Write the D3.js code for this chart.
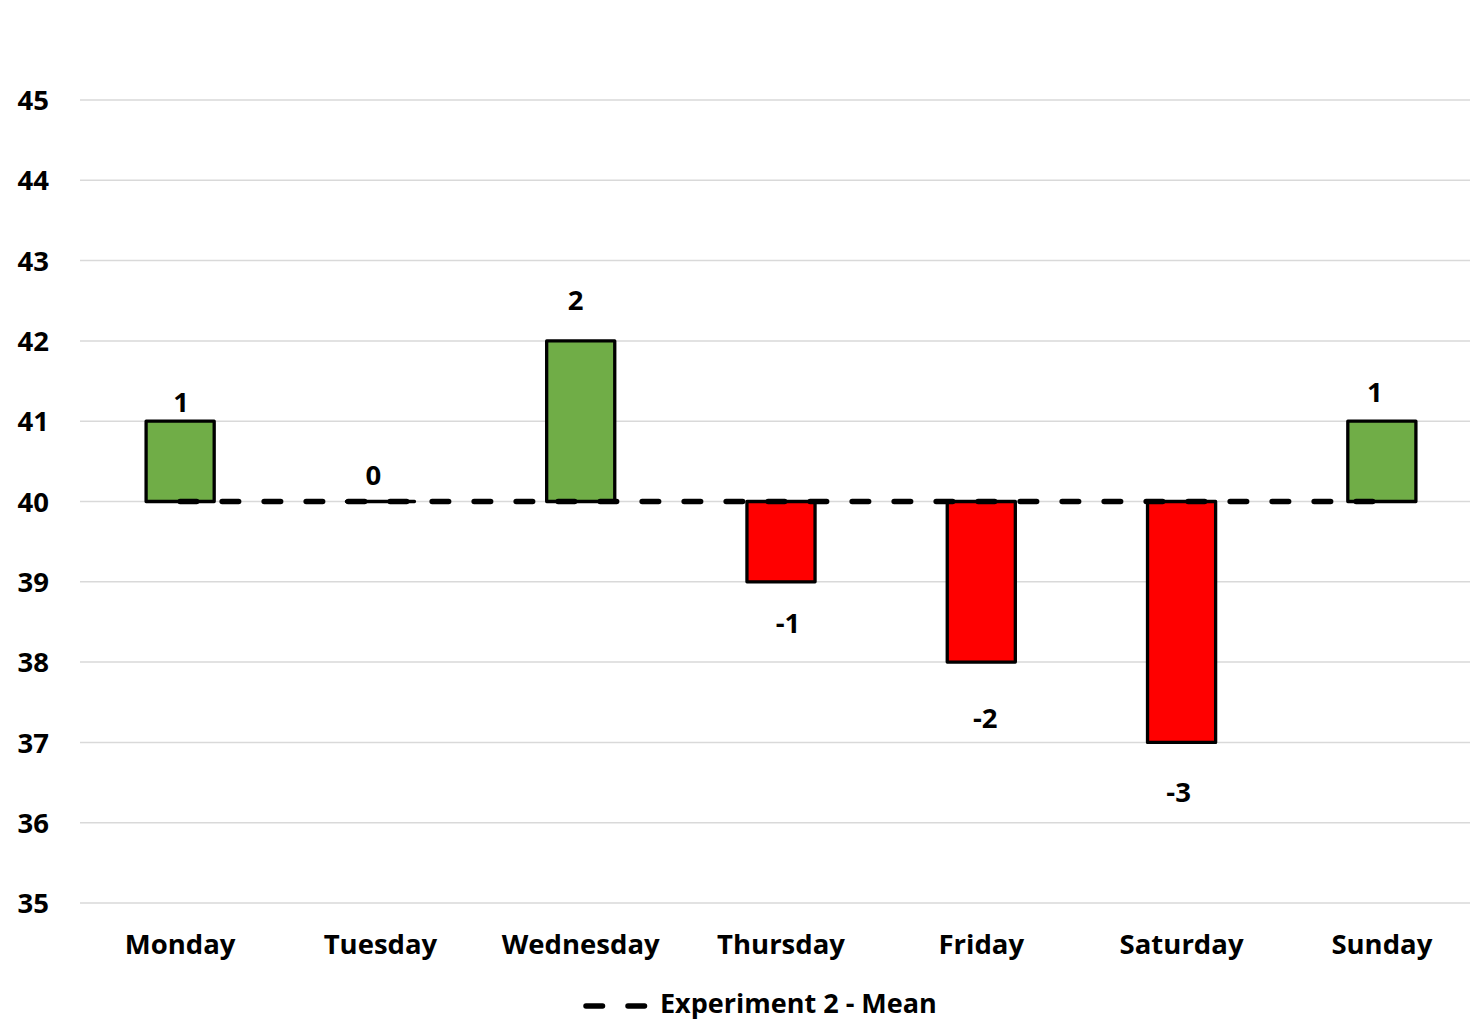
<!DOCTYPE html>
<html>
<head>
<meta charset="utf-8">
<script src="https://cdn.jsdelivr.net/npm/d3@7/dist/d3.min.js"></script>
<style>
  html, body { margin: 0; padding: 0; background: #fff; }
  svg { display: block; font-family: "Open Sans", "DejaVu Sans", sans-serif; font-weight: 700; }
</style>
</head>
<body>
<svg id="chart" width="1470" height="1022"></svg>
<script>
// Daily deviation from the experiment mean
const days = ["Monday", "Tuesday", "Wednesday", "Thursday", "Friday", "Saturday", "Sunday"];
const deviation = [1, 0, 2, -1, -2, -3, 1];
const meanValue = [40, 40, 40, 40, 40, 40, 40];
const yTicks = [35, 36, 37, 38, 39, 40, 41, 42, 43, 44, 45];
const seriesName = "Experiment 2 - Mean";

// hand-placed label nudges (px) relative to each bar end
const labelNudgeX = [1, -7, -5, 7, 4, -3, -7];
const labelNudgeY = [-19, -26, -41, 42, 56, 50, -29];

const FONT_SIZE = 27.5;

const svg = d3.select("#chart");
const plot = { left: 80, right: 1482, top: 100, bottom: 903 };

const x = d3.scaleBand()
  .domain(days)
  .range([plot.left, plot.right])
  .paddingInner(0.66)
  .paddingOuter(0.33);

const y = d3.scaleLinear()
  .domain([35, 45])
  .range([plot.bottom, plot.top]);

// gridlines
svg.append("g")
  .selectAll("line")
  .data(yTicks)
  .join("line")
  .attr("x1", plot.left)
  .attr("x2", 1470)
  .attr("y1", d => y(d))
  .attr("y2", d => y(d))
  .attr("stroke", "#d9d9d9")
  .attr("stroke-width", 1.5);

// y axis labels
const yAxis = d3.axisLeft(y).tickValues(yTicks).tickSize(0).tickPadding(0);
svg.append("g")
  .attr("transform", "translate(49,0)")
  .call(yAxis)
  .call(g => g.select(".domain").remove())
  .call(g => g.selectAll("text")
    .attr("font-size", FONT_SIZE)
    .attr("font-weight", 700)
    .attr("font-family", "'Open Sans', sans-serif")
    .attr("fill", "#000")
    .attr("dy", "0.35em"));

// x axis labels
const xAxis = d3.axisBottom(x).tickSize(0).tickPadding(0);
svg.append("g")
  .attr("transform", `translate(0,${plot.bottom + 41})`)
  .call(xAxis)
  .call(g => g.select(".domain").remove())
  .call(g => g.selectAll("text")
    .attr("font-size", FONT_SIZE)
    .attr("font-weight", 700)
    .attr("font-family", "'Open Sans', sans-serif")
    .attr("fill", "#000")
    .attr("dy", "0.35em"));

// deviation bars (drawn as paths so a zero-height bar still shows its outline)
const rows = days.map((d, i) => ({ day: d, dev: deviation[i], mean: meanValue[i], i }));

svg.append("g")
  .selectAll("path")
  .data(rows)
  .join("path")
  .attr("d", d => {
    const x0 = x(d.day), w = x.bandwidth();
    const y0 = Math.min(y(d.mean), y(d.mean + d.dev));
    const h = Math.abs(y(d.mean) - y(d.mean + d.dev));
    const p = d3.path();
    p.rect(x0, y0, w, h);
    return p.toString();
  })
  .attr("fill", d => d.dev >= 0 ? "#70ad47" : "#ff0000")
  .attr("stroke", "#000")
  .attr("stroke-width", 3.3)
  .attr("stroke-linejoin", "round");

// mean line
const line = d3.line()
  .x(d => x(d.day) + x.bandwidth() / 2)
  .y(d => y(d.mean));

svg.append("path")
  .datum(rows)
  .attr("d", line)
  .attr("fill", "none")
  .attr("stroke", "#000")
  .attr("stroke-width", 5.5)
  .attr("stroke-linecap", "round")
  .attr("stroke-dasharray", "16.5 25.5");

// value labels
svg.append("g")
  .selectAll("text")
  .data(rows)
  .join("text")
  .attr("x", d => x(d.day) + x.bandwidth() / 2 + labelNudgeX[d.i])
  .attr("y", d => y(d.mean + d.dev) + labelNudgeY[d.i])
  .attr("dy", "0.35em")
  .attr("text-anchor", "middle")
  .attr("font-size", FONT_SIZE)
  .attr("fill", "#000")
  .text(d => d.dev);

// legend
const legend = svg.append("g").attr("transform", "translate(0,1004)");
legend.append("line")
  .attr("x1", 586).attr("x2", 646)
  .attr("y1", 2).attr("y2", 2)
  .attr("stroke", "#000")
  .attr("stroke-width", 5.5)
  .attr("stroke-linecap", "round")
  .attr("stroke-dasharray", "16.5 25.5");
legend.append("text")
  .attr("x", 660)
  .attr("y", 0)
  .attr("dy", "0.35em")
  .attr("font-size", 27)
  .attr("fill", "#000")
  .text(seriesName);
</script>
</body>
</html>
